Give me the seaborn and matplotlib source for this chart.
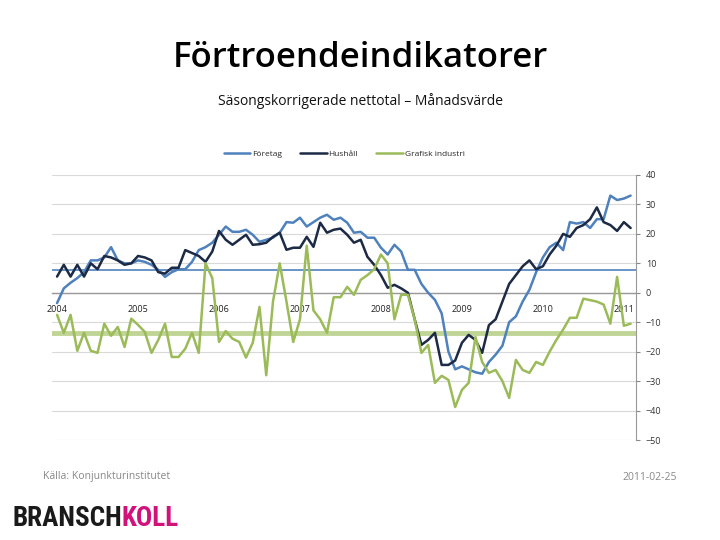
import numpy as np
import pandas as pd
import seaborn as sns
import matplotlib.pyplot as plt

# monthly values, Jan 2004 .. Feb 2011
foretag = [-3.5, 1.5, 3.4, 5, 7, 11, 11, 12, 15.5, 11, 10, 10,
           11, 10.5, 9.5, 7.8, 5.4, 7, 8, 8, 10.5, 14.5, 15.5, 17,
           19.7, 22.5, 20.7, 20.7, 21.4, 19.7, 17.3, 18, 18.7, 20.4, 24, 23.8,
           25.5, 22.5, 24, 25.5, 26.5, 24.8, 25.5, 23.8, 20.4, 20.7, 18.7, 18.7,
           15.3, 13, 16.3, 14, 7.8, 7.8, 3, 0, -2.4, -7, -20, -26,
           -25, -26, -27, -27.5, -23.5, -21, -18, -10, -8, -3, 1, 7,
           12, 15.5, 17, 14.5, 24, 23.5, 24, 22, 25, 25, 33, 31.5,
           32, 33]
hushall = [5.5, 9.5, 5.5, 9.5, 5.5, 10, 8, 12.5, 12, 11, 9.5, 10,
           12.5, 12, 11, 7, 6.5, 8.5, 8.5, 14.5, 13.5, 12.5, 10.5, 14,
           21, 18, 16.3, 18, 19.7, 16.3, 16.5, 17, 19, 20.4, 14.6, 15.3,
           15.3, 19, 15.6, 23.8, 20.4, 21.4, 21.8, 19.7, 17, 18, 12.2, 9.5,
           6, 1.7, 2.7, 1.5, 0, -9, -17.7, -16, -13.6, -24.5, -24.5, -23,
           -17, -14.3, -16, -20.4, -11, -9, -3, 3, 6, 9, 11, 8,
           9, 13, 16, 20, 19, 22, 23, 25, 29, 24, 23, 21,
           24, 22]
grafisk = [-7.5, -13.6, -7.5, -19.7, -13.6, -19.7, -20.4, -10.5, -14.6, -11.6, -18.4, -8.8,
           -10.9, -13.3, -20.4, -16, -10.5, -21.8, -21.8, -19, -13.6, -20.4, 10, 5,
           -16.7, -13, -15.6, -16.7, -22, -17, -4.8, -28, -3, 10, -3, -16.7,
           -9, 16, -6, -9, -13.6, -1.5, -1.5, 2, -0.7, 4.4, 6, 8,
           13, 10, -9, -0.7, -0.7, -9, -20.4, -17.7, -30.6, -28.2, -29.6, -38.8,
           -33, -30.6, -15, -23.5, -27.2, -26.2, -30, -35.7, -22.8, -26.2, -27.2, -23.5,
           -24.5, -20, -16, -12.5, -8.5, -8.5, -2, -2.5, -3, -4, -10.5, 5.4,
           -11.2, -10.5]

series_names = ["Företag", "Hushåll", "Grafisk industri"]
series_colors = ["#4f81bd", "#1c2a45", "#9bbb59"]
foretag_avg = 7.8
grafisk_avg = -13.5
years = [2004, 2005, 2006, 2007, 2008, 2009, 2010, 2011]
y_ticks = list(range(-50, 41, 10))

month = np.arange(len(foretag))
df = pd.DataFrame({
    "month": np.tile(month, 3),
    "value": foretag + hushall + grafisk,
    "serie": np.repeat(series_names, len(month)),
})

sns.set_style("white")
plt.rcParams["font.family"] = ["Open Sans", "DejaVu Sans"]

fig = plt.figure(figsize=(7.2, 5.4), dpi=100)
ax = fig.add_axes([52 / 720, 100 / 540, 584 / 720, 265 / 540])

for y in y_ticks:
    ax.axhline(y, color="#d9d9d9", lw=0.8, zorder=0)

ax.axhline(foretag_avg, color="#4f81bd", lw=1.2, zorder=1)
ax.axhline(grafisk_avg, color="#c0d495", lw=3.5, zorder=1)

sns.lineplot(data=df, x="month", y="value", hue="serie", hue_order=series_names,
             palette=series_colors, linewidth=1.8, ax=ax, legend=False, zorder=3)

ax.set_xlim(-0.75, 85.8)
ax.set_ylim(-50, 40)

ax.set_yticks(y_ticks)
ax.yaxis.tick_right()
ax.tick_params(axis="y", direction="out", length=3, color="#888888", labelsize=6.5,
               labelcolor="#333333", pad=4, right=True, left=False)

ax.set_xticks([(y - 2004) * 12 for y in years])
ax.set_xticklabels([str(y) for y in years])
ax.tick_params(axis="x", direction="inout", length=4, color="#888888", labelsize=6.5,
               labelcolor="#222222", pad=7)

for s in ["top", "left"]:
    ax.spines[s].set_visible(False)
ax.spines["bottom"].set_position(("data", 0))
ax.spines["bottom"].set_color("#999999")
ax.spines["bottom"].set_linewidth(1.0)
ax.spines["right"].set_color("#999999")
ax.set_xlabel("")
ax.set_ylabel("")

handles = [plt.Line2D([], [], color=c, lw=1.8) for c in series_colors]
ax.legend(handles, series_names, loc="lower center", bbox_to_anchor=(0.5, 1.035),
          ncol=3, frameon=False, fontsize=6, handlelength=3.2, columnspacing=2.2,
          handletextpad=0.2)

fig.text(0.5, 1 - 58 / 540, "Förtroendeindikatorer", ha="center", va="center",
         fontsize=25, fontweight="semibold", color="black")
fig.text(0.5, 1 - 101 / 540, "Säsongskorrigerade nettotal – Månadsvärde", ha="center",
         va="center", fontsize=10, color="#111111")

fig.text(43 / 720, 1 - 477 / 540, "Källa: Konjunkturinstitutet", ha="left",
         va="center", fontsize=7.5, color="#888888")
fig.text(677 / 720, 1 - 477 / 540, "2011-02-25", ha="right", va="center",
         fontsize=7.5, color="#888888")

logo_font = ["Roboto Condensed", "Liberation Sans Narrow", "Roboto", "DejaVu Sans"]
logo = fig.text(12 / 720, 1 - 519 / 540, "BRANSCH", ha="left", va="center",
                fontsize=19.5, fontweight="bold", color="#1a1a1a", family=logo_font)
fig.canvas.draw()
bb = logo.get_window_extent()
fig.text(bb.x1 / 720, 1 - 519 / 540, "KOLL", ha="left", va="center",
         fontsize=19.5, fontweight="bold", color="#d1127b", family=logo_font)

fig.savefig("out.png", dpi=100)
